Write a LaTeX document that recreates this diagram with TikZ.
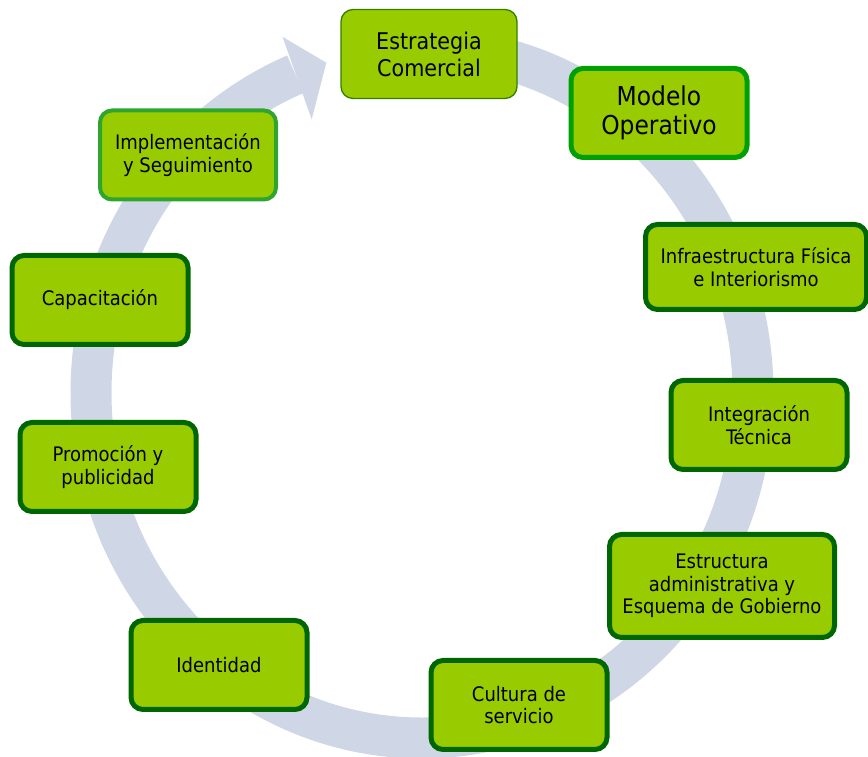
\documentclass[tikz,border=0pt]{standalone}
\usepackage{fontspec}
\setmainfont{DejaVu Sans Condensed}
\usetikzlibrary{calc}
\definecolor{boxfill}{RGB}{153,204,0}
\definecolor{ringgrey}{RGB}{207,214,230}
\definecolor{darkrim}{RGB}{0,102,0}
\definecolor{brightrim}{RGB}{0,160,0}
\definecolor{lightrim}{RGB}{46,165,46}
\definecolor{thinrim}{RGB}{51,128,0}
% point on the grey ring: angle, scale of the radius
\newcommand{\ringpt}[2]{($(ctr)+({331*#2*cos(#1)},{345*#2*sin(#1)})$)}
\tikzset{
% Boxes on the ring: the usual one and the three that differ
stage box/.style={rectangle,rounded corners=12pt,draw=darkrim,line width=5pt,fill=boxfill,
  minimum width=176pt,minimum height=89pt,inner sep=0pt,align=center,
  font=\fontsize{20}{22.5}\selectfont},
start box/.style={stage box,draw=thinrim,line width=1.3pt,font=\fontsize{23}{27}\selectfont},
model box/.style={stage box,draw=brightrim,font=\fontsize{26}{29}\selectfont},
follow box/.style={stage box,draw=lightrim,line width=4pt}
}

\begin{document}
\begin{tikzpicture}[x=1pt,y=1pt]
\useasboundingbox (0,0) rectangle (868,757);
\coordinate (ctr) at (422,364);
% the ring and its head
\draw[ringgrey,line width=41pt] \ringpt{95}{1} arc[start angle=95,end angle=-247.5,x radius=331,y radius=345];
\fill[ringgrey] \ringpt{112.2}{1.115} -- \ringpt{106.8}{1} -- \ringpt{112.8}{0.86} -- cycle;

\node[start box] (estrategia) at (429,703) {Estrategia\\Comercial};
\node[model box] (modelo) at (659,644) {Modelo\\Operativo};
\node[stage box, minimum width=221pt, minimum height=85pt] (infra) at (756,490) {Infraestructura Física\\e Interiorismo};
\node[stage box] (integracion) at (759,332) {Integración\\Técnica};
\node[stage box, minimum width=225pt, minimum height=103pt] (estructura) at (722,171) {Estructura\\administrativa y\\Esquema de Gobierno};
\node[stage box] (cultura) at (519,52) {Cultura de\\servicio};
\node[stage box] (identidad) at (219,92) {Identidad};
\node[stage box] (promocion) at (108,290) {Promoción y\\publicidad};
\node[stage box] (capacitacion) at (100,457) {Capacitación};
\node[follow box] (implementacion) at (188,602) {Implementación\\y Seguimiento};
\end{tikzpicture}
\end{document}
